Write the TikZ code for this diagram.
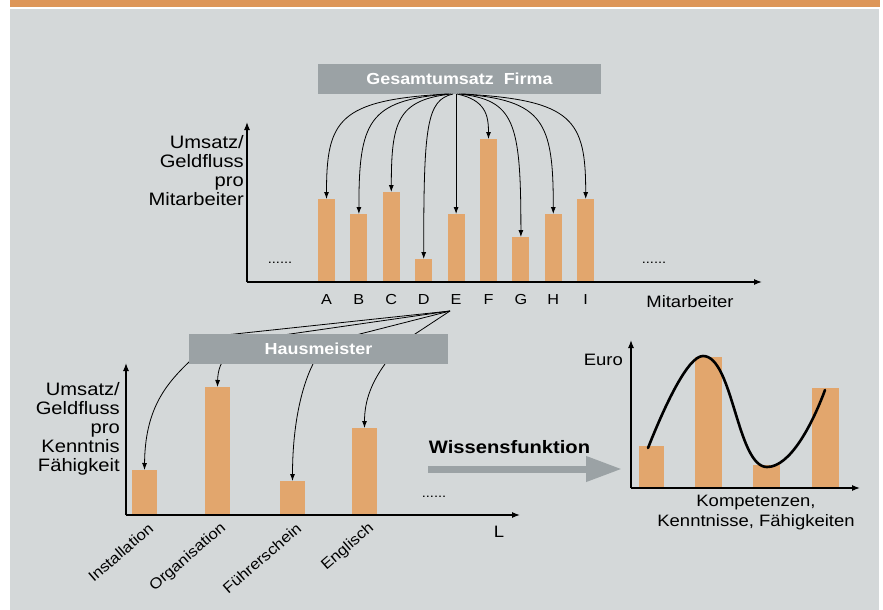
\documentclass[tikz,border=0pt]{standalone}
\usepackage{fontspec}
\setmainfont{Liberation Sans}[FakeStretch=1.12]
\usetikzlibrary{arrows.meta}
\definecolor{bggray}{RGB}{212,216,217}
\definecolor{topor}{RGB}{221,150,88}
\definecolor{baror}{RGB}{226,166,109}
\definecolor{boxgray}{RGB}{155,162,165}
\begin{document}
\begin{tikzpicture}[x=1pt,y=-1pt,
  bar/.style={fill=baror, draw=none, inner sep=0pt, outer sep=0pt, anchor=south},
  axis/.style={line width=1.2pt, -{Latex[length=8pt,width=6pt]}},
  conn/.style={line width=0.8pt, -{Latex[length=7pt,width=5pt]}},
  graybox/.style={fill=boxgray, text=white, font=\bfseries\fontsize{16}{19}\selectfont, inner sep=0pt, outer sep=0pt},
  ylab/.style={font=\fontsize{18}{19}\selectfont, align=right, inner sep=0pt},
  txt/.style={font=\fontsize{16.5}{20}\selectfont, inner sep=0pt},
  letter/.style={font=\fontsize{14.5}{16}\selectfont, inner sep=0pt},
  dots/.style={font=\fontsize{13}{14}\selectfont, inner sep=0pt},
  rot/.style={font=\fontsize{15}{17}\selectfont, inner sep=0pt, rotate=41, anchor=east}]
\useasboundingbox (0,0) rectangle (883,610);
\fill[white] (0,0) rectangle (883,610);
\fill[topor] (10,0) rectangle (880,7);
\fill[bggray] (10,9) rectangle (879,610);

% ---------- top chart ----------
\coordinate (o1) at (247,282);
\coordinate (y1) at (247,122);
\coordinate (x1) at (762,282);
\node[bar, minimum width=17pt, minimum height=83pt] (bA) at (326.5,282) {};
\node[bar, minimum width=17pt, minimum height=68pt] (bB) at (358.9,282) {};
\node[bar, minimum width=17pt, minimum height=90pt] (bC) at (391.3,282) {};
\node[bar, minimum width=17pt, minimum height=23pt] (bD) at (423.7,282) {};
\node[bar, minimum width=17pt, minimum height=68pt] (bE) at (456.1,282) {};
\node[bar, minimum width=17pt, minimum height=143pt] (bF) at (488.5,282) {};
\node[bar, minimum width=17pt, minimum height=45pt] (bG) at (520.9,282) {};
\node[bar, minimum width=17pt, minimum height=68pt] (bH) at (553.3,282) {};
\node[bar, minimum width=17pt, minimum height=83pt] (bI) at (585.7,282) {};
\draw[axis] (o1) -- (y1);
\draw[axis] (o1) -- (x1);
\node[ylab, anchor=east] (ylab1) at (244,171) {Umsatz/\\Geldfluss\\pro\\Mitarbeiter};
\node[dots] (d1) at (280,263) {......};
\node[dots] (d2) at (654,263) {......};
\foreach \l/\x in {A/326.5,B/358.9,C/391.3,D/423.7,E/456.1,F/488.5,G/520.9,H/553.3,I/585.7}
  \node[letter] (l\l) at (\x,300) {\l};
\node[txt] (xlab1) at (690,302) {Mitarbeiter};

\node[graybox, minimum width=283pt, minimum height=30pt] (gf) at (459.5,79) {Gesamtumsatz\ \ Firma};
\draw[conn] ([xshift=-12.2pt]gf.south) .. controls (338.6,100) and (326.5,120) .. (bA.north);
\draw[conn] ([xshift=-10.3pt]gf.south) .. controls (367.9,100) and (358.9,122) .. (bB.north);
\draw[conn] ([xshift=-8.3pt]gf.south) .. controls (397.3,100) and (391.3,122) .. (bC.north);
\draw[conn] ([xshift=-6.4pt]gf.south) .. controls (426.6,100) and (423.7,125) .. (bD.north);
\draw[conn] (gf.south -| bE.north) -- (bE.north);
\draw[conn] ([xshift=-2.5pt]gf.south) .. controls (485.4,100) and (488.5,115) .. (bF.north);
\draw[conn] ([xshift=-0.5pt]gf.south) .. controls (514.7,100) and (520.9,122) .. (bG.north);
\draw[conn] ([xshift=1.4pt]gf.south) .. controls (544,100) and (553.3,122) .. (bH.north);
\draw[conn] ([xshift=3.3pt]gf.south) .. controls (573.4,100) and (585.7,120) .. (bI.north);

% ---------- bottom-left chart ----------
\coordinate (o2) at (126,515);
\coordinate (y2) at (126,363);
\coordinate (x2) at (520,515);
\coordinate (eS) at (450,311);
\node[bar, minimum width=25pt, minimum height=45pt] (kInst) at (144.5,515) {};
\node[bar, minimum width=25pt, minimum height=128pt] (kOrg) at (217.5,515) {};
\node[bar, minimum width=25pt, minimum height=34pt] (kFuehr) at (292.5,515) {};
\node[bar, minimum width=25pt, minimum height=87pt] (kEngl) at (364.5,515) {};
\draw[axis] (o2) -- (y2);
\draw[axis] (o2) -- (x2);
\node[ylab, anchor=east] (ylab2) at (120,429) {Umsatz/\\Geldfluss\\pro\\Kenntnis\\Fähigkeit};
\node[dots] (d3) at (434,497) {......};
\node[txt] (lL) at (499,532) {L};
\node[rot] (tInst) at (151,526) {Installation};
\node[rot] (tOrg) at (224,526) {Organisation};
\node[rot] (tFuehr) at (299,526) {Führerschein};
\node[rot] (tEngl) at (372,526) {Englisch};

\draw[conn] (eS) -- (215,336.1) .. controls (200,340) and (196,352) .. (189,362)
  .. controls (165,385) and (145,410) .. (kInst.north);
\draw[conn] (eS) -- (270,336.9) .. controls (230,343) and (218,360) .. (kOrg.north);
\draw[conn] (eS) -- (345,337.8) .. controls (330,345) and (318,355) .. (313,364)
  .. controls (300,390) and (292.5,430) .. (kFuehr.north);
\draw[conn] (eS) -- (410,337.3) .. controls (400,344) and (392,354) .. (385,364)
  .. controls (372,382) and (364.5,400) .. (kEngl.north);
\node[graybox, minimum width=259pt, minimum height=30pt] (hm) at (318.5,349) {Hausmeister};

% ---------- Wissensfunktion ----------
\node[font=\bfseries\fontsize{18}{20}\selectfont, inner sep=0pt] (wf) at (509.5,447) {Wissensfunktion};
\coordinate (wfA) at (428,469);
\coordinate (wfB) at (622,469);
\draw[boxgray, line width=7pt, -{Triangle[length=36pt,width=24pt]}] (wfA) -- (wfB);

% ---------- right chart ----------
\coordinate (o3) at (631,488);
\coordinate (y3) at (631,340);
\coordinate (x3) at (860,488);
\node[bar, minimum width=25pt, minimum height=42pt] (r1) at (651.5,488) {};
\node[bar, minimum width=27pt, minimum height=131pt] (r2) at (708.5,488) {};
\node[bar, minimum width=27pt, minimum height=23pt] (r3) at (766.5,488) {};
\node[bar, minimum width=27pt, minimum height=100pt] (r4) at (825.5,488) {};
\draw[axis] (o3) -- (y3);
\draw[axis] (o3) -- (x3);
\draw[line width=2.6pt, line cap=round] (648,448) .. controls (665,405) and (688,356) .. (703,356)
  .. controls (733,356) and (737,467) .. (767,467)
  .. controls (790,467) and (812,425) .. (825,390);
\node[txt, anchor=east] (euro) at (623,360) {Euro};
\node[txt, align=center] (kk) at (756,513) {Kompetenzen,\\Kenntnisse, Fähigkeiten};
\end{tikzpicture}
\end{document}
